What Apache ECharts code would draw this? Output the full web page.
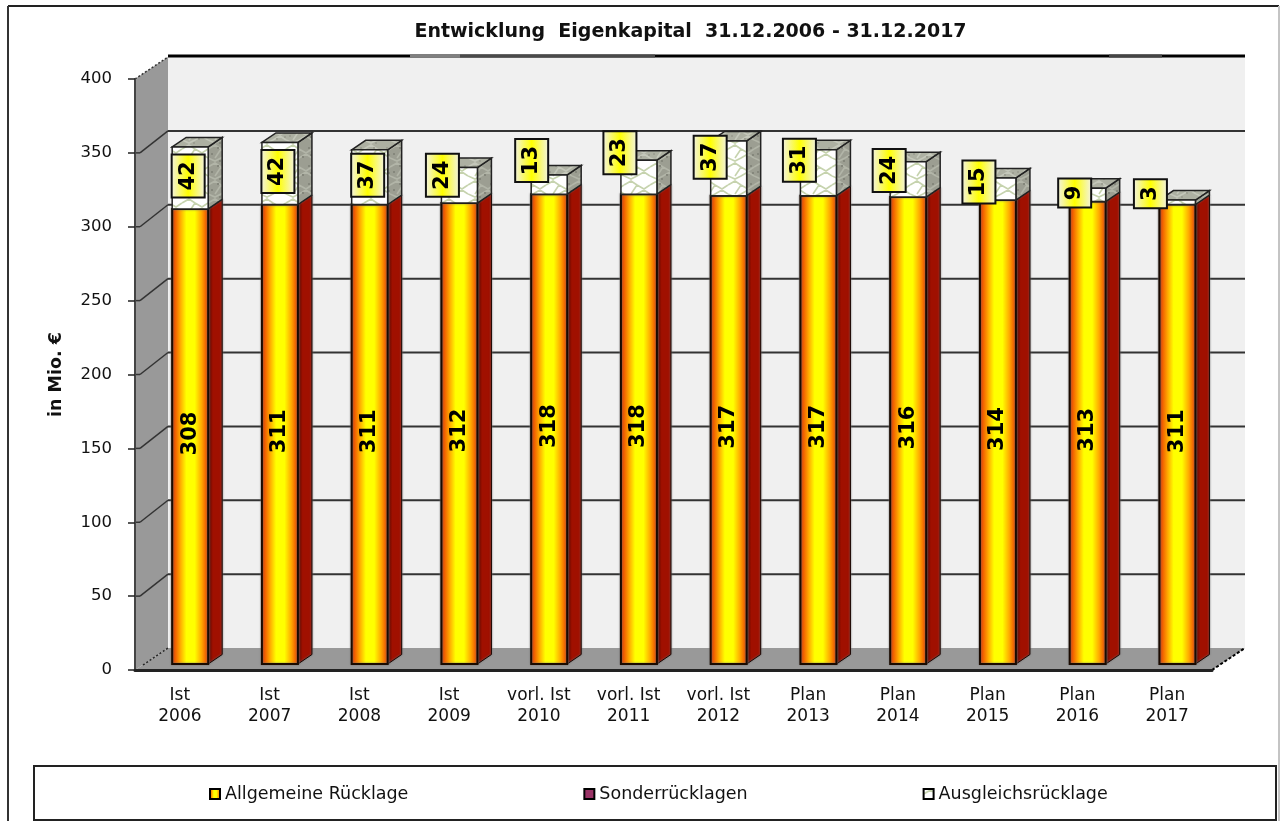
<!DOCTYPE html>
<html>
<head>
<meta charset="utf-8">
<title>Entwicklung Eigenkapital</title>
<style>
  html, body { margin: 0; padding: 0; background: #fff; }
  #chart { width: 1280px; height: 821px; }
</style>
<script src="https://cdn.jsdelivr.net/npm/echarts@6/dist/echarts.min.js"></script>
</head>
<body>
<div id="chart"></div>
<script>
// daten
const categories = ['Ist\n2006', 'Ist\n2007', 'Ist\n2008', 'Ist\n2009', 'vorl. Ist\n2010', 'vorl. Ist\n2011',
  'vorl. Ist\n2012', 'Plan\n2013', 'Plan\n2014', 'Plan\n2015', 'Plan\n2016', 'Plan\n2017'];
const allgemeine = [308, 311, 311, 312, 318, 318, 317, 317, 316, 314, 313, 311];
const sonder = [0, 0, 0, 0, 0, 0, 0, 0, 0, 0, 0, 0];
const ausgleich = [42, 42, 37, 24, 13, 23, 37, 31, 24, 15, 9, 3];
const yTicks = [50, 100, 150, 200, 250, 300, 350];

// the hand placed data labels of the old excel chart, px from the segment middle
const labelNudgeX = [-2, -2, -2, -17, -17.5, -19, -18.5, -19, -19, -19, -13, -27];
const labelNudgeY = [-2, -2, -2, -10, -24, -24.5, -11, -12.6, -9, -7, -2, -8.5];

const FONT = '"DejaVu Sans", Verdana, sans-serif';
const DEPTH_X = 33, DEPTH_Y = 22;       // wall depth
const BAR_X = 10.3, BAR_Y = 6;          // bar front offset from axis position
const BAR_W = 36, SIDE_X = 14, SIDE_Y = 9.5;

function makeTile(bg, line, spot) {
  const c = document.createElement('canvas');
  c.width = 26; c.height = 18;
  const g = c.getContext('2d');
  g.fillStyle = bg;
  g.fillRect(0, 0, 26, 18);
  g.strokeStyle = line;
  g.lineWidth = 1.6;
  g.beginPath();
  g.moveTo(0, 5); g.lineTo(7, 1); g.lineTo(13, 5); g.lineTo(20, 9); g.lineTo(26, 5);
  g.moveTo(0, 14); g.lineTo(7, 17); g.lineTo(13, 14); g.lineTo(20, 10); g.lineTo(26, 14);
  g.moveTo(13, 5); g.lineTo(7, 14);
  g.stroke();
  if (spot) {
    g.fillStyle = spot;
    [[3, 9], [9, 3], [16, 12], [22, 3], [11, 16], [24, 10]].forEach(function (p) { g.fillRect(p[0], p[1], 2, 2); });
  }
  return c;
}
const frontFill = { image: makeTile('#ffffff', '#c6d3ae'), repeat: 'repeat' };
const topFill = { image: makeTile('#adb0a2', '#c4c7ba', '#9d9f92'), repeat: 'repeat' };
const sideFill = { image: makeTile('#9c9e92', '#b2b5a8', '#85877c'), repeat: 'repeat' };

const barGradient = new echarts.graphic.LinearGradient(0, 0, 1, 0, [
  { offset: 0, color: '#c22a00' }, { offset: 0.1, color: '#f05a00' }, { offset: 0.24, color: '#ffa800' },
  { offset: 0.4, color: '#ffff00' }, { offset: 0.62, color: '#ffff00' }, { offset: 0.8, color: '#ffa800' },
  { offset: 0.93, color: '#f05a00' }, { offset: 1, color: '#c22a00' }
]);
const sideGradient = new echarts.graphic.LinearGradient(0, 0, 1, 0, [
  { offset: 0, color: '#560800' }, { offset: 0.2, color: '#7a0c00' }, { offset: 0.35, color: '#a01000' }, { offset: 1, color: '#a01000' }
]);
const boxGradient = new echarts.graphic.LinearGradient(0, 0, 1, 0, [
  { offset: 0, color: '#f2f2e8' }, { offset: 0.5, color: '#ffff00' }, { offset: 1, color: '#f2f2e8' }
]);

function segLine(x1, y1, x2, y2, color, width, dash) {
  return {
    type: 'line',
    shape: { x1: x1, y1: y1, x2: x2, y2: y2 },
    style: { stroke: color, lineWidth: width, lineDash: dash || null }
  };
}

// back wall, side wall and floor
function renderWalls(params, api) {
  const cs = params.coordSys;
  const left = cs.x, right = cs.x + cs.width, bottom = cs.y + cs.height, top = cs.y;
  const kids = [
    { type: 'rect', shape: { x: left + DEPTH_X, y: top - DEPTH_Y, width: cs.width, height: cs.height }, style: { fill: '#f0f0f0' } },
    { type: 'polygon', shape: { points: [[left, top], [left + DEPTH_X, top - DEPTH_Y], [left + DEPTH_X, bottom - DEPTH_Y], [left, bottom]] }, style: { fill: '#999999' } },
    { type: 'polygon', shape: { points: [[left, bottom], [left + DEPTH_X, bottom - DEPTH_Y], [right + DEPTH_X, bottom - DEPTH_Y], [right, bottom]] }, style: { fill: '#999999' } }
  ];
  yTicks.forEach(function (v) {
    const y = api.coord([0, v])[1];
    kids.push(segLine(left, y, left + 5, y, '#333', 1.5));
    kids.push(segLine(left + 5, y, left + DEPTH_X, y - DEPTH_Y, '#333', 1.5));
    kids.push(segLine(left + DEPTH_X, y - DEPTH_Y, right + DEPTH_X, y - DEPTH_Y, '#333', 2));
  });
  // top edge of the back wall
  kids.push(segLine(left + DEPTH_X, top - DEPTH_Y - 1, right + DEPTH_X, top - DEPTH_Y - 1, '#000', 3));
  kids.push(segLine(410, top - DEPTH_Y - 1, 460, top - DEPTH_Y - 1, '#808080', 3));
  kids.push(segLine(460, top - DEPTH_Y - 1, 655, top - DEPTH_Y - 1, '#4a4a4a', 3));
  kids.push(segLine(1109, top - DEPTH_Y - 1, 1162, top - DEPTH_Y - 1, '#444', 3));
  // jagged depth edges
  kids.push(segLine(left, top, left + DEPTH_X, top - DEPTH_Y, '#333', 1.5, [2, 2]));
  kids.push(segLine(left + 8, bottom - 5, left + DEPTH_X, bottom - DEPTH_Y, '#222', 1.5, [2, 2]));
  kids.push(segLine(right, bottom, right + DEPTH_X, bottom - DEPTH_Y, '#000', 2, [3, 2]));
  return { type: 'group', children: kids };
}

function barFront(api) {
  const from = api.coord([api.value(0), api.value(2)]);
  const to = api.coord([api.value(0), api.value(2) + api.value(1)]);
  return { x: from[0] + BAR_X - BAR_W / 2, y0: from[1] - BAR_Y, y1: to[1] - BAR_Y };
}

function renderAllgemeine(params, api) {
  const b = barFront(api);
  const x2 = b.x + BAR_W;
  return {
    type: 'group',
    children: [
      { type: 'polygon', shape: { points: [[x2, b.y0], [x2 + SIDE_X, b.y0 - SIDE_Y], [x2 + SIDE_X, b.y1 - SIDE_Y], [x2, b.y1]] },
        style: { fill: sideGradient, stroke: '#1a0500', lineWidth: 1, shadowBlur: 2, shadowColor: '#777' } },
      { type: 'rect', shape: { x: b.x, y: b.y1, width: BAR_W, height: b.y0 - b.y1 },
        style: { fill: barGradient, stroke: '#1a0a00', lineWidth: 2, shadowBlur: 2, shadowColor: '#777' } },
      { type: 'text', x: b.x + BAR_W / 2, y: (b.y0 + b.y1) / 2 - 3, rotation: Math.PI / 2,
        style: { text: String(api.value(1)), font: 'bold 21px ' + FONT, fill: '#000', textAlign: 'center', textVerticalAlign: 'middle' } }
    ]
  };
}

function renderSonder(params, api) {
  const b = barFront(api);
  if (b.y0 - b.y1 < 0.5) return { type: 'group', children: [] };
  return { type: 'rect', shape: { x: b.x, y: b.y1, width: BAR_W, height: b.y0 - b.y1 }, style: { fill: '#993366' } };
}

function renderAusgleich(params, api) {
  const b = barFront(api);
  const x2 = b.x + BAR_W;
  const i = api.value(0);
  const text = String(api.value(1));
  const boxH = text.length > 1 ? 43 : 29;
  const boxW = 33;
  const cx = b.x + BAR_W / 2 + labelNudgeX[i];
  const cy = (b.y0 + b.y1) / 2 + labelNudgeY[i];
  return {
    type: 'group',
    children: [
      { type: 'polygon', shape: { points: [[x2, b.y0], [x2 + SIDE_X, b.y0 - SIDE_Y], [x2 + SIDE_X, b.y1 - SIDE_Y], [x2, b.y1]] },
        style: { fill: sideFill, stroke: '#222', lineWidth: 1.5 } },
      { type: 'polygon', shape: { points: [[b.x, b.y1], [b.x + SIDE_X, b.y1 - SIDE_Y], [x2 + SIDE_X, b.y1 - SIDE_Y], [x2, b.y1]] },
        style: { fill: topFill, stroke: '#222', lineWidth: 1.5 } },
      { type: 'rect', shape: { x: b.x, y: b.y1, width: BAR_W, height: b.y0 - b.y1 },
        style: { fill: frontFill, stroke: '#222', lineWidth: 1.5 } },
      { type: 'rect', shape: { x: cx - boxW / 2, y: cy - boxH / 2, width: boxW, height: boxH },
        style: { fill: boxGradient, stroke: '#111', lineWidth: 2 } },
      { type: 'text', x: cx, y: cy, rotation: Math.PI / 2,
        style: { text: text, font: 'bold 21px ' + FONT, fill: '#000', textAlign: 'center', textVerticalAlign: 'middle' } }
    ]
  };
}

const chart = echarts.init(document.getElementById('chart'), null, { renderer: 'canvas' });

chart.setOption({
  animation: false,
  backgroundColor: '#fff',
  title: {
    text: 'Entwicklung  Eigenkapital  31.12.2006 - 31.12.2017',
    left: 685.5,
    top: 18,
    textAlign: 'center',
    textStyle: { fontFamily: FONT, fontSize: 19, fontWeight: 'bold', color: '#111' }
  },
  grid: { left: 135, top: 79, width: 1077, height: 591 },
  xAxis: {
    type: 'category',
    data: categories,
    z: 5,
    axisLine: { lineStyle: { color: '#222', width: 3 } },
    axisTick: { length: 5, lineStyle: { color: '#222', width: 1.5 } },
    axisLabel: { interval: 0, margin: 15, fontFamily: FONT, fontSize: 17, lineHeight: 21, color: '#111' }
  },
  yAxis: {
    type: 'value',
    min: 0,
    max: 400,
    interval: 50,
    z: 5,
    name: 'in Mio. €',
    nameLocation: 'middle',
    nameGap: 70,
    nameTextStyle: { fontFamily: FONT, fontSize: 17.5, fontWeight: 'bold', color: '#111' },
    axisLine: { show: true, lineStyle: { color: '#444', width: 2 } },
    axisTick: { show: true, length: 7, lineStyle: { color: '#222', width: 1.5 } },
    axisLabel: { margin: 23, fontFamily: FONT, fontSize: 16.5, color: '#111' },
    splitLine: { show: false }
  },
  legend: {
    left: 204,
    top: 780,
    icon: 'rect',
    itemWidth: 10,
    itemHeight: 10,
    itemGap: 175,
    selectedMode: false,
    textStyle: { fontFamily: FONT, fontSize: 17.5, color: '#111' },
    data: [
      { name: 'Allgemeine Rücklage', itemStyle: { color: barGradient, borderColor: '#000', borderWidth: 2 } },
      { name: 'Sonderrücklagen', itemStyle: { color: '#993366', borderColor: '#000', borderWidth: 2 } },
      { name: 'Ausgleichsrücklage', itemStyle: { color: frontFill, borderColor: '#000', borderWidth: 2 } }
    ]
  },
  graphic: [
    { type: 'line', shape: { x1: 8, y1: 6, x2: 1279, y2: 6 }, style: { stroke: '#222', lineWidth: 2 } },
    { type: 'line', shape: { x1: 8, y1: 6, x2: 8, y2: 821 }, style: { stroke: '#333', lineWidth: 2 } },
    { type: 'line', shape: { x1: 1279, y1: 6, x2: 1279, y2: 821 }, style: { stroke: '#c4c4c4', lineWidth: 2 } },
    { type: 'rect', shape: { x: 34, y: 766, width: 1242, height: 54 }, style: { fill: '#fff', stroke: '#222', lineWidth: 2 } }
  ],
  series: [
    { type: 'custom', name: 'walls', z: 1, silent: true, renderItem: renderWalls, data: [[0, 0]], encode: { x: 0, y: 1 } },
    { type: 'custom', name: 'Allgemeine Rücklage', z: 3, renderItem: renderAllgemeine,
      data: allgemeine.map(function (v, i) { return [i, v, 0]; }), encode: { x: 0, y: 1 } },
    { type: 'custom', name: 'Sonderrücklagen', z: 3, renderItem: renderSonder,
      data: sonder.map(function (v, i) { return [i, v, allgemeine[i]]; }), encode: { x: 0, y: 1 } },
    { type: 'custom', name: 'Ausgleichsrücklage', z: 3, renderItem: renderAusgleich,
      data: ausgleich.map(function (v, i) { return [i, v, allgemeine[i] + sonder[i]]; }), encode: { x: 0, y: 1 } }
  ]
});
</script>
</body>
</html>
